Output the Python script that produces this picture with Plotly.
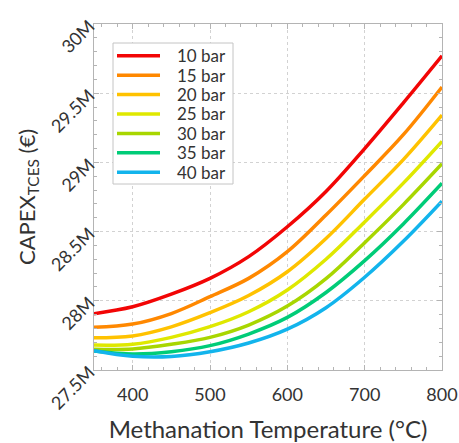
import plotly.graph_objects as go

temps = [350, 400, 450, 500, 550, 600, 650, 700, 750, 800]
labels = ["10 bar", "15 bar", "20 bar", "25 bar", "30 bar", "35 bar", "40 bar"]
capex_10 = [27.907, 27.957, 28.048, 28.162, 28.319, 28.535, 28.790, 29.100, 29.430, 29.770]
capex_15 = [27.808, 27.832, 27.908, 28.030, 28.162, 28.355, 28.620, 28.905, 29.200, 29.545]
capex_20 = [27.733, 27.746, 27.812, 27.914, 28.038, 28.210, 28.450, 28.735, 29.020, 29.342]
capex_25 = [27.680, 27.686, 27.736, 27.813, 27.921, 28.078, 28.300, 28.570, 28.850, 29.152]
capex_30 = [27.650, 27.652, 27.686, 27.736, 27.825, 27.962, 28.160, 28.420, 28.695, 28.990]
capex_35 = [27.638, 27.616, 27.632, 27.676, 27.760, 27.880, 28.060, 28.290, 28.555, 28.849]
capex_40 = [27.640, 27.600, 27.598, 27.632, 27.695, 27.795, 27.950, 28.170, 28.430, 28.720]
series = [capex_10, capex_15, capex_20, capex_25, capex_30, capex_35, capex_40]
colors = ["#f20505", "#ff8800", "#ffc200", "#dfe800", "#a8d600", "#00cc78", "#12b4ec"]

FONT = "Lato, Open Sans, sans-serif"
TXT = "#333333"

# plot-area geometry (pixels) used for the hand-drawn legend box
W, H = 459, 443
ML, MR, MT, MB = 94, 17, 24, 73
PW, PH = W - ML - MR, H - MT - MB

def px(x):
    return (x - ML) / PW

def py(y):
    return (H - MB - y) / PH

fig = go.Figure()
for lab, ys, c in zip(labels, series, colors):
    fig.add_trace(go.Scatter(x=temps, y=ys, mode="lines", name=lab, showlegend=False,
                             line=dict(color=c, width=3.5, shape="spline", smoothing=1.0)))

# legend (box, line samples, right-aligned labels)
shapes = [dict(type="rect", xref="paper", yref="paper", x0=px(113), x1=px(233), y0=py(43), y1=py(184),
               line=dict(color="#c4c4c4", width=1), fillcolor="white", layer="above")]
annotations = []
for i, (lab, c) in enumerate(zip(labels, colors)):
    yy = 55.7 + i * 19.43
    shapes.append(dict(type="line", xref="paper", yref="paper", x0=px(117), x1=px(160),
                       y0=py(yy), y1=py(yy), line=dict(color=c, width=3.5), layer="above"))
    annotations.append(dict(xref="paper", yref="paper", x=px(228), y=py(yy), text=lab,
                            xanchor="right", yanchor="middle", showarrow=False,
                            font=dict(size=17, color=TXT, family=FONT)))

axis_common = dict(showline=True, linecolor="#b4b4b4", linewidth=1, mirror="ticks",
                   ticks="inside", ticklen=5, tickcolor="#b4b4b4", automargin=False,
                   showgrid=True, gridcolor="#d2d2d2", griddash="dot", gridwidth=1,
                   zeroline=False, tickfont=dict(size=18, color=TXT, family=FONT))

fig.update_layout(
    width=W, height=H,
    margin=dict(l=ML, r=MR, t=MT, b=MB),
    paper_bgcolor="white", plot_bgcolor="white",
    font=dict(family=FONT, color=TXT),
    showlegend=False,
    shapes=shapes, annotations=annotations,
    xaxis=dict(range=[350, 800], tickvals=[400, 500, 600, 700, 800], ticklabelstandoff=8,
               title=dict(text="Methanation Temperature (°C)", font=dict(size=24, color=TXT), standoff=17),
               minor=dict(dtick=20, ticks="inside", ticklen=3, tickcolor="#b4b4b4", showgrid=False),
               **axis_common),
    yaxis=dict(range=[27.5, 30], tickvals=[27.5, 28, 28.5, 29, 29.5, 30],
               ticktext=["27.5M", "28M", "28.5M", "29M", "29.5M", "30M"], tickangle=-45,
               title=dict(text="CAPEX<sub>TCES</sub> (€)", font=dict(size=22, color=TXT), standoff=4),
               minor=dict(dtick=0.1, ticks="inside", ticklen=3, tickcolor="#b4b4b4", showgrid=False),
               **axis_common),
)
fig.write_html("out.html")
